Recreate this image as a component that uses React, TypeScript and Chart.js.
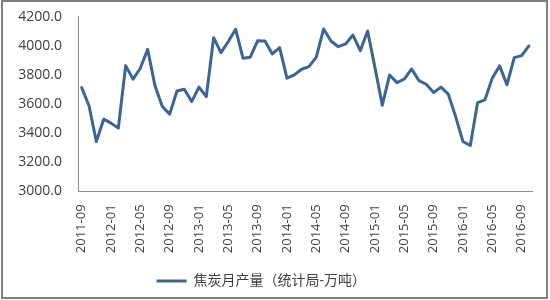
import { useEffect, useRef } from 'react';
import { Chart, registerables } from 'chart.js';

Chart.register(...registerables);

const months: string[] = [
  '2011-09', '2011-10', '2011-11', '2011-12',
  '2012-01', '2012-02', '2012-03', '2012-04', '2012-05', '2012-06',
  '2012-07', '2012-08', '2012-09', '2012-10', '2012-11', '2012-12',
  '2013-01', '2013-02', '2013-03', '2013-04', '2013-05', '2013-06',
  '2013-07', '2013-08', '2013-09', '2013-10', '2013-11', '2013-12',
  '2014-01', '2014-02', '2014-03', '2014-04', '2014-05', '2014-06',
  '2014-07', '2014-08', '2014-09', '2014-10', '2014-11', '2014-12',
  '2015-01', '2015-02', '2015-03', '2015-04', '2015-05', '2015-06',
  '2015-07', '2015-08', '2015-09', '2015-10', '2015-11', '2015-12',
  '2016-01', '2016-02', '2016-03', '2016-04', '2016-05', '2016-06',
  '2016-07', '2016-08', '2016-09', '2016-10',
];

const cokeOutput: number[] = [
  3713, 3588, 3343, 3496,
  3469, 3435, 3864, 3771, 3846, 3976,
  3725, 3583, 3531, 3690, 3702, 3617,
  3716, 3651, 4056, 3953, 4030, 4114,
  3915, 3922, 4035, 4033, 3944, 3987,
  3778, 3800, 3839, 3857, 3922, 4116,
  4033, 3994, 4013, 4074, 3967, 4102,
  3850, 3592, 3800, 3747, 3772, 3841,
  3761, 3736, 3679, 3716, 3668, 3514,
  3343, 3315, 3610, 3629, 3778, 3862,
  3732, 3919, 3933, 3999,
];

const seriesName = '焦炭月产量（统计局-万吨）';
const yMin = 3000;
const yMax = 4200;
const yStep = 200;
const labelEvery = 4;

export default function App() {
  const ref = useRef<HTMLCanvasElement | null>(null);

  useEffect(() => {
    if (!ref.current) return;
    const chart = new Chart(ref.current, {
      type: 'line',
      data: {
        labels: months,
        datasets: [
          {
            label: seriesName,
            data: cokeOutput,
            borderColor: '#3c6597',
            backgroundColor: '#3c6597',
            borderWidth: 3,
            pointRadius: 0,
            tension: 0,
            borderJoinStyle: 'round',
            borderCapStyle: 'round',
          },
        ],
      },
      options: {
        responsive: false,
        animation: false,
        layout: { padding: { top: 16.7, left: 0, right: 7.4, bottom: 2 } },
        plugins: {
          legend: {
            position: 'bottom',
            labels: {
              usePointStyle: true,
              pointStyle: 'line',
              pointStyleWidth: 30,
              color: '#404040',
              font: { family: '"Open Sans", "Noto Sans CJK SC", sans-serif', size: 14 },
              padding: 10,
            },
          },
          tooltip: { enabled: false },
        },
        scales: {
          x: {
            type: 'category',
            offset: true,
            grid: { display: false, drawTicks: false },
            border: { display: true, color: '#8c8c8c', width: 1 },
            ticks: {
              autoSkip: false,
              minRotation: 90,
              maxRotation: 90,
              padding: 13,
              color: '#404040',
              font: { family: '"Open Sans", sans-serif', size: 13 },
              callback: function (this: any, value: any, index: number) {
                return index % labelEvery === 0 ? this.getLabelForValue(value) : '';
              },
            },
            afterFit: (scale: any) => {
              scale.height = 72.6;
              scale.paddingLeft = 0;
              scale.paddingRight = 0;
            },
          },
          y: {
            min: yMin,
            max: yMax,
            grid: { display: false, drawTicks: false },
            border: { display: true, color: '#8c8c8c', width: 1 },
            ticks: {
              stepSize: yStep,
              padding: 16,
              color: '#404040',
              font: { family: '"Open Sans", sans-serif', size: 14 },
              callback: (v: any) => Number(v).toFixed(1),
            },
            afterFit: (scale: any) => {
              scale.width = 88;
              scale.paddingTop = 0;
              scale.paddingBottom = 0;
            },
          },
        },
      },
    });
    return () => chart.destroy();
  }, []);

  return (
    <div
      style={{
        position: 'fixed',
        left: 0,
        top: 0,
        width: 550,
        height: 300,
        background: '#ffffff',
        overflow: 'hidden',
      }}
    >
      <canvas
        ref={ref}
        width={550}
        height={300}
        style={{ position: 'absolute', left: -10, top: 0, width: 550, height: 300 }}
      />
      <div
        style={{
          position: 'absolute',
          left: 1,
          top: 0,
          width: 547,
          height: 299,
          boxSizing: 'border-box',
          border: '2px solid #7f7f7f',
          pointerEvents: 'none',
        }}
      />
    </div>
  );
}
